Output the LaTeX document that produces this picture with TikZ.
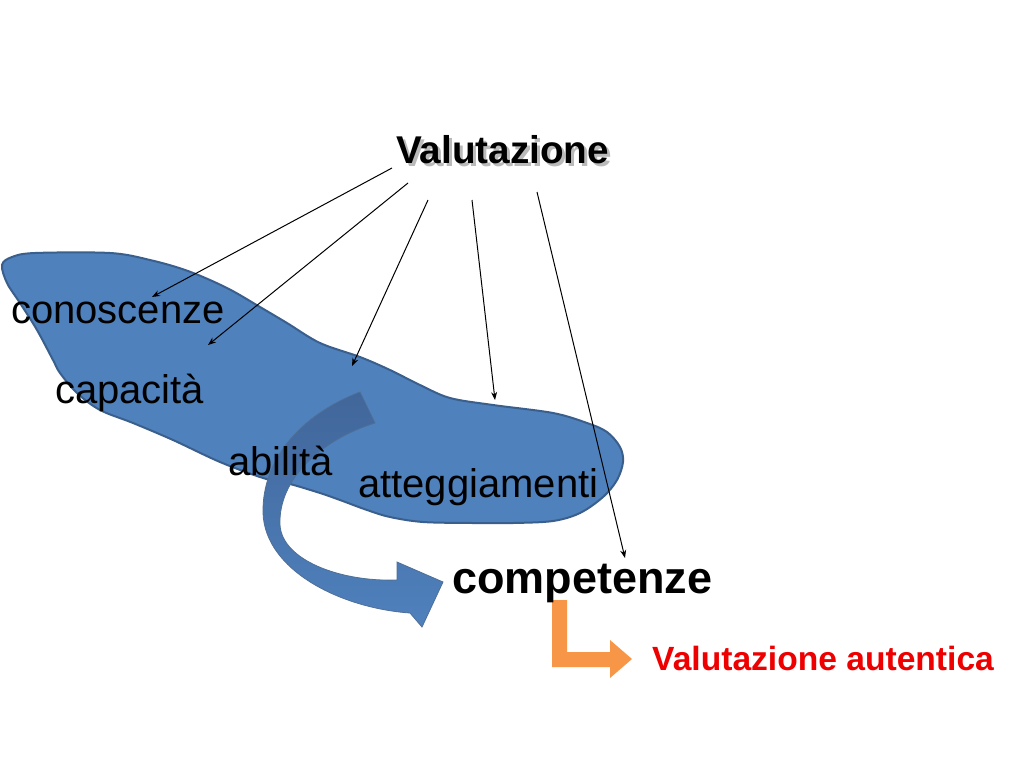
\documentclass[tikz,border=0pt]{standalone}
\usepackage{fontspec}
\setmainfont{Liberation Sans}
\definecolor{blobfill}{HTML}{4F81BD}
\definecolor{blobline}{HTML}{3A5F8C}
\definecolor{arrdark}{HTML}{41669A}
\definecolor{orangearr}{HTML}{F79646}
\definecolor{redtxt}{HTML}{EE0000}
\tikzset{
  lbl/.style={inner sep=0pt, anchor=base west, font=\fontsize{40}{48}\selectfont},
  conn/.style={draw=black, line width=1pt, -{Stealth[length=8pt,width=6pt]}},
}
\usetikzlibrary{arrows.meta}
\begin{document}
\begin{tikzpicture}[x=1pt,y=-1pt]
\useasboundingbox (0,0) rectangle (1024,768);
\fill[white] (0,0) rectangle (1024,768);
% blob
\draw[fill=blobfill, draw=blobline, line width=2pt]
  plot[smooth cycle, tension=0.55] coordinates {
  (2,265) (12,257) (35,253) (110,253) (150,260) (188,271) (227,288) (260,307)
  (287,323) (320,343) (360,357) (390,370) (420,385) (450,398) (493,405)
  (553,413) (587,423) (607,432) (620,447) (623,462) (617,480) (603,497)
  (580,513) (553,521) (513,523) (473,523) (423,522) (390,517) (367,510)
  (340,500) (320,493) (290,484) (263,478) (220,462) (173,440) (133,423)
  (100,410) (77,393) (60,373) (53,360) (37,330) (20,303) (7,283)};
% curved arrow
\draw[top color=arrdark, bottom color=blobfill, draw=blobline!90, line width=0.8pt]
  (360,392) .. controls (300,415) and (262,460) .. (263,513)
  .. controls (265,570) and (340,608) .. (410,613)
  -- (422,627) -- (443,582) -- (397,562) -- (397,580)
  .. controls (340,582) and (282,560) .. (280,525)
  .. controls (278,480) and (320,440) .. (375,423) -- cycle;
% orange bent arrow
\fill[orangearr] (552,600) -- (567,600) -- (567,652) -- (610,652) -- (610,640)
  -- (632,659) -- (610,678) -- (610,667) -- (552,667) -- cycle;
% texts
\node[lbl, font=\fontsize{38.7}{46}\selectfont\bfseries, text=black!45, opacity=0.6] at (399,166) {Valutazione};
\node[lbl, font=\fontsize{38.7}{46}\selectfont\bfseries] (val) at (396,163) {Valutazione};
\node[lbl] (con) at (11,323) {conoscenze};
\node[lbl] (cap) at (55,403) {capacità};
\node[lbl] (abi) at (228,475) {abilità};
\node[lbl] (att) at (358,497) {atteggiamenti};
\node[lbl, font=\fontsize{45}{54}\selectfont\bfseries] (comp) at (452,593) {competenze};
\node[lbl, font=\fontsize{33.6}{40}\selectfont\bfseries, text=redtxt] (aut) at (652,670) {Valutazione autentica};
% connector coordinates
\coordinate (s1) at (392,168); \coordinate (e1) at (152,297);
\coordinate (s2) at (408,183); \coordinate (e2) at (208,345);
\coordinate (s3) at (428,200); \coordinate (e3) at (352,366);
\coordinate (s4) at (472,200); \coordinate (e4) at (495,400);
\coordinate (s5) at (537,192); \coordinate (e5) at (625,558);
\draw[conn] (s1) -- (e1);
\draw[conn] (s2) -- (e2);
\draw[conn] (s3) -- (e3);
\draw[conn] (s4) -- (e4);
\draw[conn] (s5) -- (e5);
\end{tikzpicture}
\end{document}
